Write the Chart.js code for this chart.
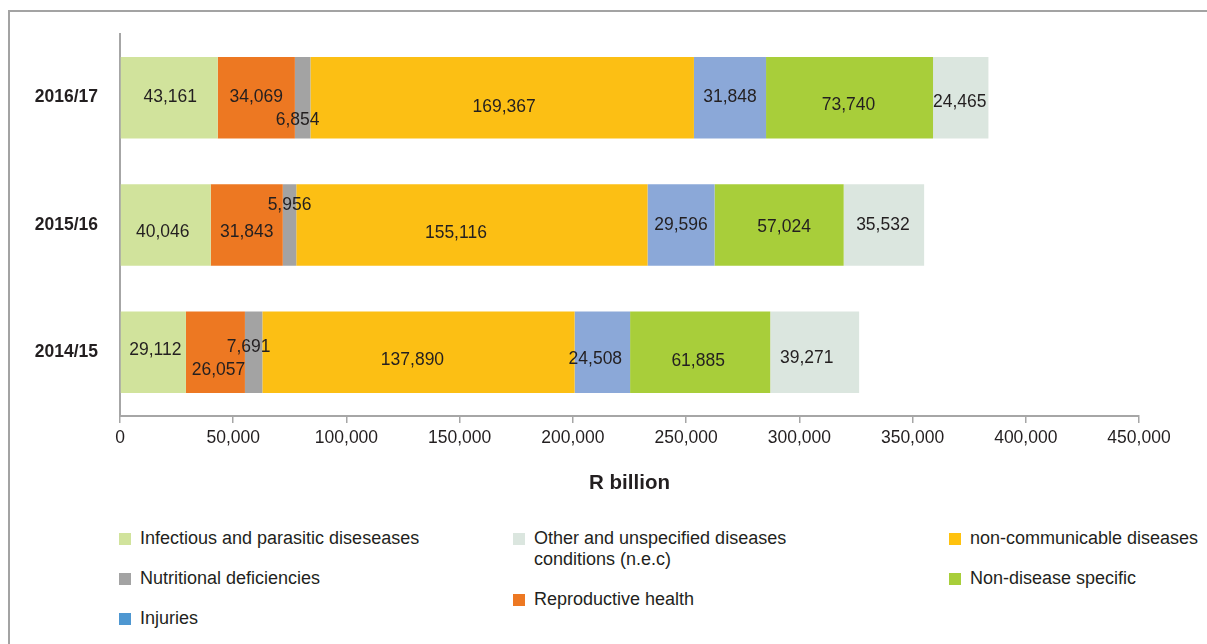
<!DOCTYPE html>
<html>
<head>
<meta charset="utf-8">
<title>Expenditure by disease category</title>
<script src="https://cdn.jsdelivr.net/npm/chart.js@4"></script>
<style>
  html, body { margin: 0; padding: 0; background: #fff; overflow: hidden; }
  body { font-family: "Liberation Sans", Arial, sans-serif; width: 1207px; height: 644px; position: relative; }
  #frame { position: absolute; left: 8px; top: 10px; width: 1240px; height: 680px;
           border-top: 2px solid #a3a3a3; border-left: 2px solid #a3a3a3; }
  #wrap { position: absolute; left: 0; top: 0; width: 1207px; height: 510px; }
  .col { position: absolute; top: 528px; }
  .item { display: flex; align-items: flex-start; font-size: 18px; line-height: 21px;
          color: #231f20; margin-bottom: 19px; }
  .box { width: 12px; height: 12px; margin-top: 5px; margin-right: 9px; flex: none; }
  .txt { white-space: nowrap; }
  .txt.wrap { white-space: normal; width: 275px; }
</style>
</head>
<body>
<div id="frame"></div>
<div id="wrap"><canvas id="costChart"></canvas></div>
<div id="legend"></div>
<script>
// financial years, top to bottom
var years = ['2016/17', '2015/16', '2014/15'];

// spending per category (R billion)
var infectious      = [43161, 40046, 29112];
var reproductive    = [34069, 31843, 26057];
var nutritional     = [6854, 5956, 7691];
var nonCommunicable = [169367, 155116, 137890];
var injuries        = [31848, 29596, 24508];
var nonDisease      = [73740, 57024, 61885];
var otherDiseases   = [24465, 35532, 39271];

var seriesNames = [
  'Infectious and parasitic diseseases',
  'Reproductive health',
  'Nutritional deficiencies',
  'non-communicable diseases',
  'Injuries',
  'Non-disease specific',
  'Other and unspecified diseases conditions (n.e.c)'
];
var seriesData = [infectious, reproductive, nutritional, nonCommunicable, injuries, nonDisease, otherDiseases];

var xTicks = [0, 50000, 100000, 150000, 200000, 250000, 300000, 350000, 400000, 450000];

// styling
var barColors    = ['#d1e39c', '#ed7822', '#a3a3a3', '#fcbf14', '#8ba8d8', '#a8ce3a', '#dbe6df'];
var legendColors = ['#d1e39c', '#ed7822', '#a3a3a3', '#ffc20e', '#4e97d1', '#a8ce3a', '#dbe6df'];
// legend columns (indexes into seriesNames); the middle one wraps its long entry
var legendColumns = [[0, 2, 4], [6, 1], [3, 5]];
var legendLeft = [119, 513, 949];
var legendWrap = [false, true, false];

// nudges for the value labels [dx, dy] per series, per year
var labelNudge = [
  [[1, 0], [-3, 7], [2, -2]],
  [[0, 0], [0, 7], [3, 18]],
  [[-5, 23], [0, -20], [-5, -5]],
  [[2, 10], [-16, 8], [-6, 8]],
  [[0, 0], [0, 0], [-7, 7]],
  [[-1, 8], [5, 2], [-2, 9]],
  [[-1, 5], [-1, 0], [-8, 6]]
];

var FONT = '"Liberation Sans", Arial, sans-serif';
var TEXT = '#231f20';

var valueLabels = {
  id: 'valueLabels',
  afterDatasetsDraw: function(chart) {
    var ctx = chart.ctx;
    ctx.save();
    ctx.font = '17.5px ' + FONT;
    ctx.fillStyle = TEXT;
    ctx.textAlign = 'center';
    ctx.textBaseline = 'middle';
    chart.data.datasets.forEach(function(ds, i) {
      chart.getDatasetMeta(i).data.forEach(function(bar, j) {
        var nudge = labelNudge[i][j];
        var x = (bar.x + bar.base) / 2 + nudge[0];
        ctx.fillText(ds.data[j].toLocaleString('en-US'), x, bar.y + nudge[1]);
      });
    });
    ctx.restore();
  }
};

var ctx = document.getElementById('costChart').getContext('2d');
var costChart = new Chart(ctx, {
  type: 'bar',
  data: {
    labels: years,
    datasets: seriesData.map(function(values, i) {
      return {
        label: seriesNames[i],
        data: values,
        backgroundColor: barColors[i],
        borderWidth: 0,
        categoryPercentage: 1,
        barPercentage: 0.64
      };
    })
  },
  options: {
    indexAxis: 'y',
    responsive: true,
    maintainAspectRatio: false,
    animation: false,
    layout: { padding: { left: 0, top: 34, right: 68, bottom: 0 } },
    scales: {
      x: {
        stacked: true,
        min: 0,
        max: 450000,
        afterBuildTicks: function(scale) {
          scale.ticks = xTicks.map(function(v) { return { value: v }; });
        },
        afterFit: function(scale) { scale.height = 94; },
        ticks: {
          color: TEXT,
          font: { family: FONT, size: 17.5 },
          padding: 5,
          maxRotation: 0,
          callback: function(v) { return Number(v).toLocaleString('en-US'); }
        },
        grid: { drawOnChartArea: false, tickLength: 7, color: '#a6a6a6', lineWidth: 1.5 },
        border: { color: '#a6a6a6', width: 2 },
        title: {
          display: true,
          text: 'R billion',
          color: TEXT,
          font: { family: FONT, size: 20.5, weight: 'bold' },
          padding: { top: 0, bottom: 14 }
        }
      },
      y: {
        stacked: true,
        afterFit: function(scale) { scale.width = 120; },
        ticks: {
          color: TEXT,
          font: { family: FONT, size: 17.5, weight: 'bold' },
          padding: 22
        },
        grid: { display: false, drawTicks: false },
        border: { color: '#a6a6a6', width: 2 }
      }
    },
    plugins: {
      legend: { display: false },
      tooltip: { enabled: false }
    }
  },
  plugins: [valueLabels]
});

// legend laid out in three columns under the axis
var legend = document.getElementById('legend');
legendColumns.forEach(function(col, c) {
  var div = document.createElement('div');
  div.className = 'col';
  div.style.left = legendLeft[c] + 'px';
  col.forEach(function(idx) {
    var item = document.createElement('div');
    item.className = 'item';
    var box = document.createElement('span');
    box.className = 'box';
    box.style.background = legendColors[idx];
    var txt = document.createElement('span');
    txt.className = legendWrap[c] ? 'txt wrap' : 'txt';
    txt.textContent = seriesNames[idx];
    item.appendChild(box);
    item.appendChild(txt);
    div.appendChild(item);
  });
  legend.appendChild(div);
});
</script>
</body>
</html>
